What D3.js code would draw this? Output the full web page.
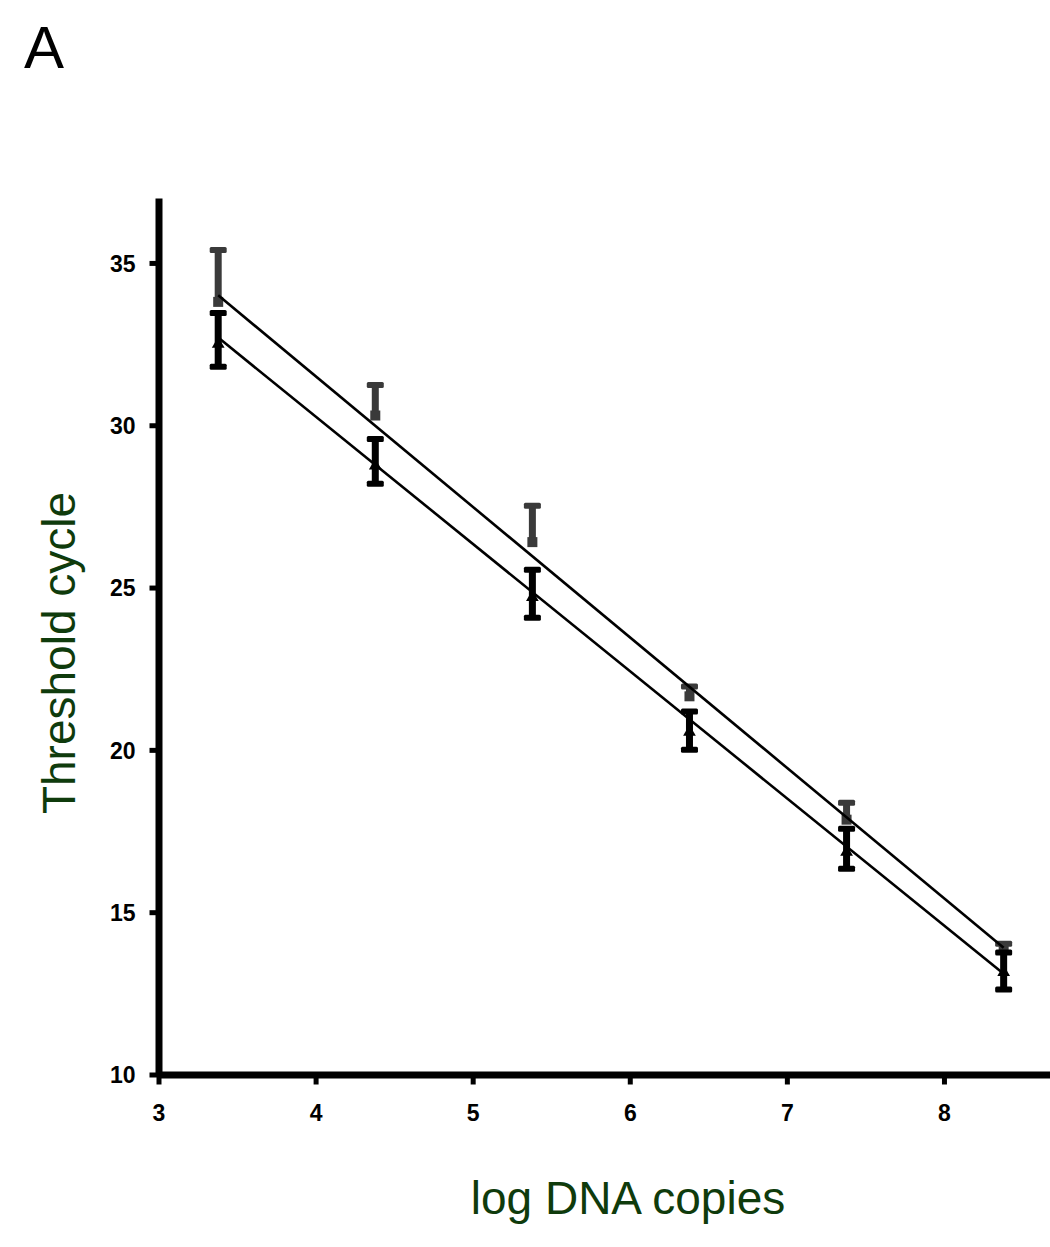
<!DOCTYPE html>
<html lang="en">
<head>
<meta charset="utf-8">
<title>Threshold cycle vs log DNA copies</title>
<script src="https://d3js.org/d3.v7.min.js"></script>
<style>
  body { margin: 0; background: white; }
  svg text { font-family: "Liberation Sans", Arial, sans-serif; }
</style>
</head>
<body>
<script>
// values
var logCopies = [3.38, 4.38, 5.38, 6.38, 7.38, 8.38];
var greyMean  = [33.8, 30.3, 26.4, 21.65, 17.85, 13.9];
var greyHi    = [35.4, 31.24, 27.52, 21.95, 18.37, 14.03];
var blackMean = [32.5, 28.75, 24.7, 20.55, 16.85, 13.15];
var blackHi   = [33.46, 29.58, 25.55, 21.18, 17.57, 13.76];
var blackLo   = [31.8, 28.2, 24.07, 20.0, 16.34, 12.62];
// fitted lines: Ct = a + b * log copies
var fitA = [47.59, 45.95];
var fitB = [-4.02, -3.92];
var xTicks = [3, 4, 5, 6, 7, 8];
var yTicks = [10, 15, 20, 25, 30, 35];

var W = 1050, H = 1247;
var svg = d3.select("body").append("svg")
    .attr("width", W).attr("height", H);
svg.append("rect").attr("width", W).attr("height", H).attr("fill", "white");

var x = d3.scaleLinear().domain([3, 8.675]).range([158.5, 1050]);
var y = d3.scaleLinear().domain([10, 37]).range([1074.5, 198]);

// axes
var xAxis = svg.append("g")
    .attr("transform", "translate(0," + y(10) + ")")
    .call(d3.axisBottom(x).tickValues(xTicks).tickSize(10).tickSizeOuter(0)
      .tickPadding(20).tickFormat(d3.format("d")));
var yAxis = svg.append("g")
    .attr("transform", "translate(" + x(3) + ",0)")
    .call(d3.axisLeft(y).tickValues(yTicks).tickSize(9).tickSizeOuter(0)
      .tickPadding(14).tickFormat(d3.format("d")));

[xAxis, yAxis].forEach(function(g) {
  g.select(".domain").attr("stroke", "#000").attr("stroke-width", 7);
  g.selectAll(".tick line").attr("stroke", "#000").attr("stroke-width", 5);
  g.selectAll(".tick text")
    .attr("fill", "#000")
    .style("font-size", "23px")
    .style("font-weight", "bold");
});
xAxis.selectAll(".tick text").attr("dy", "0.71em");
yAxis.selectAll(".tick text").attr("dy", "0.36em");

// error bars
var capW = 17, capH = 6, barW = 7;
function errBar(cls, col, lo, hi) {
  var g = svg.append("g").attr("class", cls);
  g.selectAll("rect.bar").data(logCopies).enter().append("rect")
    .attr("x", function(d) { return x(d) - barW / 2; })
    .attr("y", function(d, i) { return y(hi[i]); })
    .attr("width", barW)
    .attr("height", function(d, i) { return y(lo[i]) - y(hi[i]); })
    .attr("fill", col);
  g.selectAll("rect.caphi").data(logCopies).enter().append("rect")
    .attr("x", function(d) { return x(d) - capW / 2; })
    .attr("y", function(d, i) { return y(hi[i]) - capH / 2; })
    .attr("width", capW).attr("height", capH).attr("rx", 1.5)
    .attr("fill", col);
  return g;
}
var gGrey = errBar("grey", "#3a3a3a", greyMean, greyHi);
gGrey.selectAll("rect.mark").data(logCopies).enter().append("rect")
  .attr("x", function(d) { return x(d) - 5; })
  .attr("y", function(d, i) { return y(greyMean[i]) - 5; })
  .attr("width", 10).attr("height", 10)
  .attr("fill", "#3a3a3a");

var gBlack = errBar("black", "#000", blackLo, blackHi);
gBlack.selectAll("rect.caplo").data(logCopies).enter().append("rect")
  .attr("x", function(d) { return x(d) - capW / 2; })
  .attr("y", function(d, i) { return y(blackLo[i]) - capH / 2; })
  .attr("width", capW).attr("height", capH).attr("rx", 1.5)
  .attr("fill", "#000");
gBlack.selectAll("path.mark").data(logCopies).enter().append("path")
  .attr("d", d3.symbol().type(d3.symbolTriangle).size(70))
  .attr("transform", function(d, i) { return "translate(" + x(d) + "," + y(blackMean[i]) + ")"; })
  .attr("fill", "#000");

// regression lines
var x0 = d3.min(logCopies), x1 = d3.max(logCopies);
fitA.forEach(function(a, k) {
  svg.append("line")
    .attr("x1", x(x0)).attr("y1", y(a + fitB[k] * x0))
    .attr("x2", x(x1)).attr("y2", y(a + fitB[k] * x1))
    .attr("stroke", "#000").attr("stroke-width", 2.6);
});

// axis titles
svg.append("text")
  .attr("x", 628).attr("y", 1214)
  .attr("text-anchor", "middle")
  .attr("fill", "#0f3b0c")
  .style("font-size", "46px")
  .text("log DNA copies");
svg.append("text")
  .attr("transform", "translate(75,653) rotate(-90)")
  .attr("text-anchor", "middle")
  .attr("fill", "#0f3b0c")
  .style("font-size", "46px")
  .text("Threshold cycle");

// panel letter
svg.append("text")
  .attr("x", 24).attr("y", 68)
  .attr("fill", "#000")
  .style("font-size", "60px")
  .text("A");
</script>
</body>
</html>
